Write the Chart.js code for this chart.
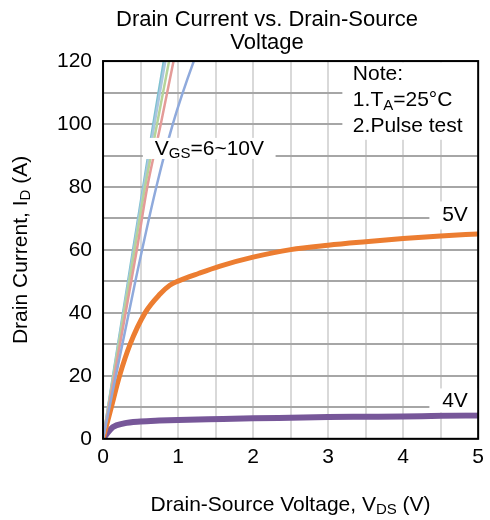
<!DOCTYPE html>
<html>
<head>
<meta charset="utf-8">
<script src="https://cdn.jsdelivr.net/npm/chart.js@4"></script>
<style>
    html, body { margin: 0; padding: 0; background: #fff; }
    .GraphWrap { width: 490px; height: 520px; }
</style>
</head>
<body>
<div class="GraphWrap"><canvas id="graph"></canvas></div>
<script>
// tick labels
var xTickLabels = [0, 1, 2, 3, 4, 5];
var yTickLabels = [0, 20, 40, 60, 80, 100, 120];

// VGS = 6..10 V, steep lines running off the top of the plot
var vds6V = [0, 0.43, 0.71, 0.93, 1.21, 1.31];
var id6V = [0, 50, 80, 100, 120, 126];
var vds7V = [0, 0.45, 0.59, 0.77, 0.94, 0.99];
var id7V = [0, 60, 80, 100, 120, 126];
var vds8V = [0, 0.42, 0.56, 0.72, 0.88, 0.93];
var id8V = [0, 60, 80, 100, 120, 126];
var vds9V = [0, 0.41, 0.545, 0.685, 0.83, 0.88];
var id9V = [0, 60, 80, 100, 120, 127];
var vds10V = [0, 0.40, 0.535, 0.67, 0.81, 0.86];
var id10V = [0, 60, 80, 100, 120, 127];

// VGS = 5 V
var vds5V = [0, 0.11, 0.22, 0.36, 0.56, 0.76, 0.89, 1.0, 1.28, 1.55, 2, 2.5, 3, 3.5, 4, 4.5, 5];
var id5V = [0, 10, 20, 30, 40, 46, 48.8, 50.1, 52.6, 54.8, 57.7, 60.1, 61.5, 62.6, 63.6, 64.4, 65.1];

// VGS = 4 V
var vds4V = [0, 0.05, 0.13, 0.28, 0.5, 0.75, 1, 1.4, 2, 2.5, 3, 3.5, 4, 4.5, 5];
var id4V = [0, 1.6, 3.7, 4.9, 5.5, 5.8, 6.0, 6.2, 6.5, 6.7, 6.9, 7.0, 7.1, 7.3, 7.4];

var fontName = "'Liberation Sans', Arial, sans-serif";

function pts(xs, ys) {
    return xs.map(function (x, i) { return { x: x, y: ys[i] }; });
}

function curve(label, xs, ys, color, width) {
    return {
        label: label,
        data: pts(xs, ys),
        borderColor: color,
        backgroundColor: color,
        borderWidth: width,
        pointRadius: 0,
        cubicInterpolationMode: 'monotone',
        fill: false
    };
}

// text with subscripts: parts = [[text, isSub], ...]
function richWidth(ctx, parts, size) {
    var w = 0;
    parts.forEach(function (p) {
        ctx.font = (p[1] ? Math.round(size * 0.7) : size) + 'px ' + fontName;
        w += ctx.measureText(p[0]).width;
    });
    return w;
}

function drawRich(ctx, parts, x, y, size) {
    ctx.textAlign = 'left';
    ctx.textBaseline = 'alphabetic';
    ctx.fillStyle = '#000';
    parts.forEach(function (p) {
        ctx.font = (p[1] ? Math.round(size * 0.7) : size) + 'px ' + fontName;
        ctx.fillText(p[0], x, p[1] ? y + size * 0.15 : y);
        x += ctx.measureText(p[0]).width;
    });
}

// notes on the plot: box in data units, text lines with baseline in data units
var notes = [
    { box: [0.53, 2.30, 88.9, 95.6], x: 0.69, lines: [[90.1, [['V', 0], ['GS', 1], ['=6~10V', 0]]]] },
    { box: [3.19, 5.0, 95.0, 119.6], x: 3.33, lines: [
        [113.9, [['Note:', 0]]],
        [105.6, [['1.T', 0], ['A', 1], ['=25°C', 0]]],
        [97.5, [['2.Pulse test', 0]]]
    ] },
    { box: [4.35, 5.0, 66.5, 75.4], x: 4.52, lines: [[69.1, [['5V', 0]]]] },
    { box: [4.35, 5.0, 8.4, 16.0], x: 4.52, lines: [[10.0, [['4V', 0]]]] }
];

var overlay = {
    id: 'overlay',
    afterDatasetsDraw: function (chart) {
        var ctx = chart.ctx;
        var xs = chart.scales.x, ys = chart.scales.y;
        var area = chart.chartArea;
        ctx.save();
        notes.forEach(function (n) {
            var x0 = xs.getPixelForValue(n.box[0]), x1 = xs.getPixelForValue(n.box[1]);
            var y0 = ys.getPixelForValue(n.box[3]), y1 = ys.getPixelForValue(n.box[2]);
            ctx.fillStyle = '#fff';
            ctx.fillRect(x0, y0, x1 - x0, y1 - y0);
            n.lines.forEach(function (l) {
                drawRich(ctx, l[1], xs.getPixelForValue(n.x), ys.getPixelForValue(l[0]), 21);
            });
        });

        // frame round the plot
        ctx.strokeStyle = '#000';
        ctx.lineWidth = 2;
        ctx.strokeRect(area.left, area.top, area.right - area.left, area.bottom - area.top);

        // x axis title
        var xt = [['Drain-Source Voltage, V', 0], ['DS', 1], [' (V)', 0]];
        var w = richWidth(ctx, xt, 21);
        drawRich(ctx, xt, (area.left + area.right) / 2 - w / 2, 511, 21);

        // y axis title
        var yt = [['Drain Current, I', 0], ['D', 1], [' (A)', 0]];
        w = richWidth(ctx, yt, 21);
        ctx.translate(27, (area.top + area.bottom) / 2);
        ctx.rotate(-Math.PI / 2);
        drawRich(ctx, yt, -w / 2, 0, 21);
        ctx.restore();
    }
};

document.addEventListener('DOMContentLoaded', function () {
    const chartCtx = document.getElementById('graph').getContext('2d');

    var chart = new Chart(chartCtx, {
        type: 'line',
        data: {
            datasets: [
                curve('VGS=6V', vds6V, id6V, '#8faadc', 2.5),
                curve('VGS=7V', vds7V, id7V, '#e49b98', 2.5),
                curve('VGS=8V', vds8V, id8V, '#b5d49a', 2.5),
                curve('VGS=9V', vds9V, id9V, '#a9c6e0', 2.5),
                curve('VGS=10V', vds10V, id10V, '#7dc1cf', 2.5),
                curve('VGS=5V', vds5V, id5V, '#ec7d31', 5),
                curve('VGS=4V', vds4V, id4V, '#775799', 6)
            ]
        },
        plugins: [overlay],
        options: {
            responsive: true,
            maintainAspectRatio: false,
            animation: false,
            layout: { padding: { left: 46, right: 2, bottom: 44, top: 0 } },
            plugins: {
                legend: { display: false },
                tooltip: { enabled: false },
                title: {
                    display: true,
                    text: ['Drain Current vs. Drain-Source', 'Voltage'],
                    color: '#000',
                    font: { family: fontName, size: 22, weight: 'normal', lineHeight: 1.07 },
                    padding: { top: 8, bottom: 6 }
                }
            },
            scales: {
                x: {
                    type: 'linear',
                    min: 0,
                    max: 5,
                    border: { display: false },
                    grid: { color: '#d9d9d9', lineWidth: 2, drawTicks: false },
                    ticks: {
                        stepSize: 0.5,
                        padding: 6,
                        color: '#000',
                        maxRotation: 0,
                        font: { family: fontName, size: 21 },
                        callback: function (v) { return xTickLabels.indexOf(v) >= 0 ? String(v) : ''; }
                    }
                },
                y: {
                    min: 0,
                    max: 120,
                    border: { display: false },
                    grid: { color: '#a6a6a6', lineWidth: 2, drawTicks: false },
                    ticks: {
                        stepSize: 10,
                        padding: 11,
                        color: '#000',
                        font: { family: fontName, size: 21 },
                        callback: function (v) { return yTickLabels.indexOf(v) >= 0 ? String(v) : ''; }
                    }
                }
            }
        }
    });
});
</script>
</body>
</html>
